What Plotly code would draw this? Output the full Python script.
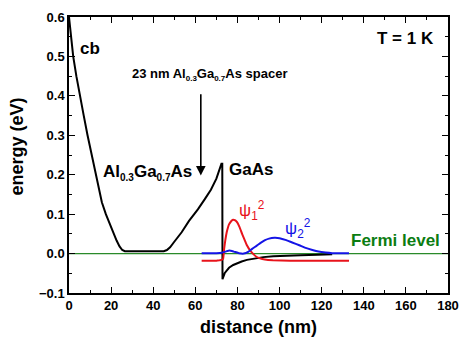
import plotly.graph_objects as go

# Conduction band edge (eV) vs distance (nm)
cb_x = [0, 1, 2, 3.5, 5.4, 7, 8.8, 10.7, 12.7, 14.0, 15.6, 17.5, 19.3, 21.0, 22.6, 24.0, 25.3,
        26.5, 35, 45, 46.5, 48, 50, 53.5, 57, 61.2, 64.5, 67.4, 70, 71.3, 72.4, 72.8,
        72.9, 74, 76, 78, 79.9, 82, 84.5, 88, 92.3, 97, 103, 110, 118, 125]
cb_y = [0.6, 0.55, 0.5, 0.45, 0.4, 0.35, 0.3, 0.25, 0.2, 0.165, 0.13, 0.1, 0.075, 0.052, 0.033, 0.018, 0.009,
        0.006, 0.006, 0.006, 0.009, 0.016, 0.03, 0.054, 0.083, 0.112, 0.138, 0.162, 0.19, 0.212, 0.228, 0.228,
        -0.065, -0.049, -0.036, -0.029, -0.024, -0.02, -0.016, -0.012, -0.009, -0.007, -0.005, -0.004, -0.003, -0.002]

# Probability density of the first subband (offset to its energy level)
psi1_x = [63, 70, 71.5, 72.5, 73.2, 73.7, 74.3, 74.9, 75.5, 76, 77.0, 77.9, 79.0, 79.9, 81, 82.2, 83.4,
          84.5, 86, 87.7, 89, 90.7, 93, 96.8, 105, 120, 133]
psi1_y = [-0.018, -0.018, -0.017, -0.016, -0.013, 0.013, 0.036, 0.054, 0.066, 0.074, 0.082, 0.086, 0.084, 0.079, 0.067, 0.05, 0.035,
          0.021, 0.008, -0.002, -0.008, -0.012, -0.015, -0.017, -0.018, -0.018, -0.018]

# Probability density of the second subband
psi2_x = [63, 70, 72.5, 74.4, 76.2, 78.3, 80.7, 83, 85.3, 87, 89.2, 91, 93.1, 95, 97.6, 100,
          103.2, 106, 109.4, 112, 115.6, 118.5, 121.8, 125, 133]
psi2_y = [0.001, 0.001, 0.002, 0.005, 0.008, 0.005, 0.001, 0.0, 0.005, 0.012, 0.02, 0.027, 0.034, 0.038, 0.040, 0.039,
          0.034, 0.028, 0.021, 0.015, 0.009, 0.005, 0.0025, 0.001, 0.001]

# Fermi level
fermi_x = [0, 180]
fermi_y = [0.0, 0.0]

x_ticks = [0, 20, 40, 60, 80, 100, 120, 140, 160, 180]
y_ticks = [-0.1, 0.0, 0.1, 0.2, 0.3, 0.4, 0.5, 0.6]

FONT = "Liberation Sans, Arial, sans-serif"
RED = "#e8131b"
BLUE = "#1414e6"
GREEN_LINE = "#2a8a2a"
GREEN_TEXT = "#0b7d12"

fig = go.Figure()
fig.add_trace(go.Scatter(x=fermi_x, y=fermi_y, mode="lines",
                         line=dict(color=GREEN_LINE, width=1.3)))
fig.add_trace(go.Scatter(x=cb_x, y=cb_y, mode="lines",
                         line=dict(color="black", width=2)))
fig.add_trace(go.Scatter(x=psi1_x, y=psi1_y, mode="lines",
                         line=dict(color=RED, width=2, shape="spline", smoothing=0.3)))
fig.add_trace(go.Scatter(x=psi2_x, y=psi2_y, mode="lines",
                         line=dict(color=BLUE, width=2, shape="spline", smoothing=0.3)))

axis_common = dict(
    showgrid=False, zeroline=False, showline=True, linecolor="black", linewidth=1.5,
    mirror="allticks", ticks="inside", ticklen=6, tickwidth=1.3, tickcolor="black",
    tickfont=dict(family=FONT, size=13, color="black", weight="bold"),
)

fig.update_xaxes(range=[0, 180], tickvals=x_ticks,
                 minor=dict(ticks="inside", ticklen=3, tickwidth=1.2, tickcolor="black", dtick=10),
                 **axis_common)
fig.update_yaxes(range=[-0.1, 0.6], tickvals=y_ticks, tickformat=".1f",
                 minor=dict(ticks="inside", ticklen=3, tickwidth=1.2, tickcolor="black", dtick=0.05),
                 **axis_common)


def sub(t, px):
    return f"<sub><span style='font-size:{px}px'>{t}</span></sub>"


def label(text, x, y, size, color="black", xanchor="center", yanchor="middle", weight="bold"):
    fig.add_annotation(text=text, x=x, y=y, xref="x", yref="y", showarrow=False,
                       xanchor=xanchor, yanchor=yanchor,
                       font=dict(family=FONT, size=size, color=color, weight=weight))


label("cb", 10.0, 0.52, 17)
label("T = 1 K", 159.8, 0.545, 17)
label(f"23 nm Al{sub('0.3', 8)}Ga{sub('0.7', 8)}As spacer", 66.8, 0.455, 13)
label(f"Al{sub('0.3', 10)}Ga{sub('0.7', 10)}As", 37.5, 0.205, 17)
label("GaAs", 86.2, 0.212, 17)
label("Fermi level", 155.2, 0.032, 17, color=GREEN_TEXT)
label("ψ<sub>1</sub><sup>2</sup>", 79.9, 0.109, 17, color=RED, xanchor="left", weight="normal")
label("ψ<sub>2</sub><sup>2</sup>", 101.8, 0.063, 17, color=BLUE, xanchor="left", weight="normal")

# Arrow pointing at the spacer
fig.add_annotation(x=62.6, y=0.198, ax=62.6, ay=0.408, xref="x", yref="y", axref="x", ayref="y",
                   text="", showarrow=True, arrowhead=2, arrowsize=1.2, arrowwidth=1.6,
                   arrowcolor="black")

# Axis titles
fig.add_annotation(text="distance (nm)", x=0.5, y=-0.124, xref="paper", yref="paper",
                   showarrow=False, xanchor="center", yanchor="middle",
                   font=dict(family=FONT, size=18, color="black", weight="bold"))
fig.add_annotation(text="energy (eV)", x=-0.138, y=0.53, xref="paper", yref="paper",
                   showarrow=False, xanchor="center", yanchor="middle", textangle=-90,
                   font=dict(family=FONT, size=18, color="black", weight="bold"))

fig.update_layout(
    width=469, height=344,
    margin=dict(l=69, r=14, t=10, b=51),
    paper_bgcolor="white", plot_bgcolor="white",
    showlegend=False,
)

fig.write_html("out.html")
